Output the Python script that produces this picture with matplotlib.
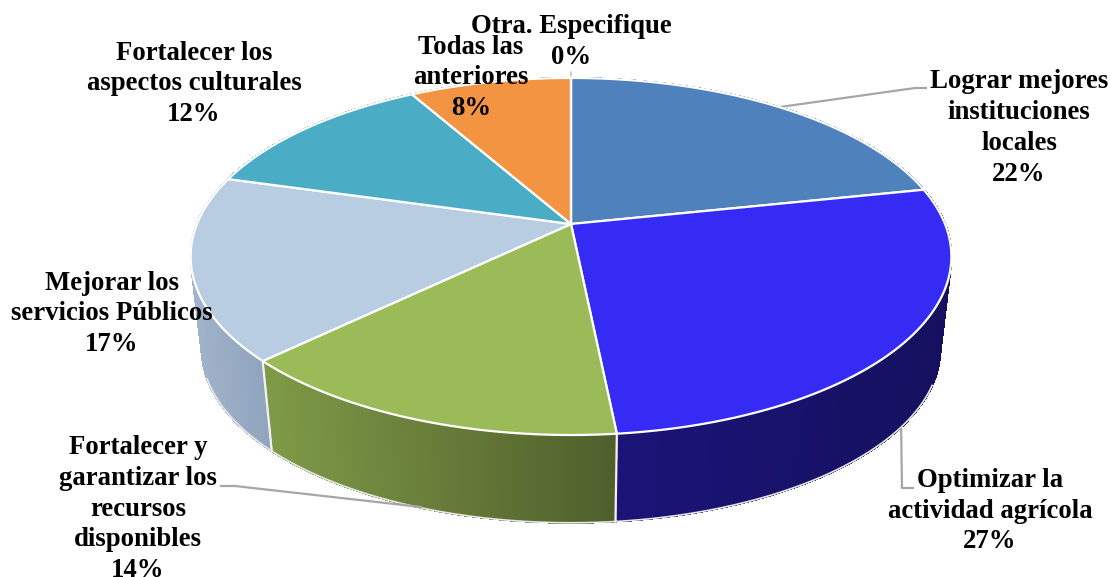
#!/usr/bin/env python3
# -*- coding: utf-8 -*-
import numpy as np
import matplotlib
matplotlib.use('Agg')
import matplotlib.pyplot as plt
from matplotlib.colors import to_rgb

categories = ['Lograr mejores\ninstituciones\nlocales', 'Optimizar la\nactividad agrícola',
              'Fortalecer y\ngarantizar los\nrecursos\ndisponibles', 'Mejorar los\nservicios Públicos',
              'Fortalecer los\naspectos culturales', 'Todas las\nanteriores', 'Otra. Especifique']
values = [21.7, 26.7, 14.4, 16.6, 12.4, 8.2, 0.0]
top_colors = ['#4f81bd', '#352bf5', '#9bbb59', '#b8cce2', '#4bacc6', '#f39443', '#c0504d']
wall_start = ['#3f6797', '#1a1478', '#7f9a47', '#a0b3ca', '#3c8a9e', '#c27636', '#9a403e']
wall_end = ['#3f6797', '#15105e', '#4f5f2c', '#90a4bd', '#3c8a9e', '#c27636', '#9a403e']
label_pos = [(1019, 128), (990, 511), (138, 509), (112, 314), (194, 84), (471, 78), (571, 42)]

CX = 571
P = 0.182


def project(theta, cy, a, b):
    u, v = np.sin(theta), np.cos(theta)
    d = 1 + P * v
    return CX + a * u / d, cy - b * v / d


def top_rim(theta):
    return project(theta, 224, 374, 172.6)


def bottom_rim(theta):
    return project(theta, 318, 363, 167.5)


plt.rcParams['font.family'] = ['Liberation Serif', 'DejaVu Serif']
fig = plt.figure(figsize=(11.1, 5.77), dpi=100)
ax = fig.add_axes([0, 0, 1, 1])
ax.set_xlim(0, 1110)
ax.set_ylim(577, 0)
ax.axis('off')

edges = 2 * np.pi * np.cumsum([0] + values) / sum(values)

# leader lines go under the pie
ax.plot([780, 915, 926], [107, 88, 88], color='#a6a6a6', lw=1.6, zorder=1)
ax.plot([901, 902, 913], [420, 488, 488], color='#a6a6a6', lw=1.6, zorder=1)
ax.plot([221, 235, 421], [486, 486, 507], color='#a6a6a6', lw=1.6, zorder=3)
ax.plot([571, 571], [72, 78], color='#c8c8c8', lw=1.2, zorder=1)

# walls, small quads so the gradient shows
for i in range(len(values)):
    t0, t1 = edges[i], edges[i + 1]
    if t1 <= t0:
        continue
    n = max(int((t1 - t0) * 90), 2)
    ts = np.linspace(t0, t1, n + 1)
    c0, c1 = np.array(to_rgb(wall_start[i])), np.array(to_rgb(wall_end[i]))
    # gradient runs left to right on screen
    xs = top_rim(ts)[0]
    front = np.cos(ts) < 0.2
    lo, hi = (xs[front].min(), xs[front].max()) if front.any() else (0, 1)
    for k in range(n):
        xa, ya = top_rim(ts[k])
        xb, yb = top_rim(ts[k + 1])
        xc, yc = bottom_rim(ts[k + 1])
        xd, yd = bottom_rim(ts[k])
        f = np.clip((xa - lo) / max(hi - lo, 1), 0, 1)
        col = c0 + (c1 - c0) * f
        ax.fill([xa, xb, xc, xd], [ya, yb, yc, yd], color=tuple(col), lw=0.8,
                antialiased=False, zorder=2)

# outline of the lower rim and the seams between walls
tt = np.linspace(np.radians(112), np.radians(250), 300)
ax.plot(*bottom_rim(tt), color='#e8e8e8', lw=1.2, zorder=2.5)
for t in edges[[2, 3]]:
    xa, ya = top_rim(t)
    xb, yb = bottom_rim(t)
    ax.plot([xa, xb], [ya, yb], color='#f2f2f2', lw=1.6, zorder=2.6)

# top face
for i in range(len(values)):
    ts = np.linspace(edges[i], edges[i + 1], 120)
    xs, ys = top_rim(ts)
    ax.fill(np.r_[CX, xs], np.r_[224, ys], facecolor=top_colors[i], edgecolor='white',
            lw=1.6, joinstyle='round', zorder=4)

for name, val, (x, y) in zip(categories, values, label_pos):
    ax.text(x, y, f'{name}\n{val:.0f}%', ha='center', va='center', fontsize=19.3,
            fontweight='bold', linespacing=1.3, color='black', zorder=6)

plt.savefig('out.png', dpi=100)
plt.close()
